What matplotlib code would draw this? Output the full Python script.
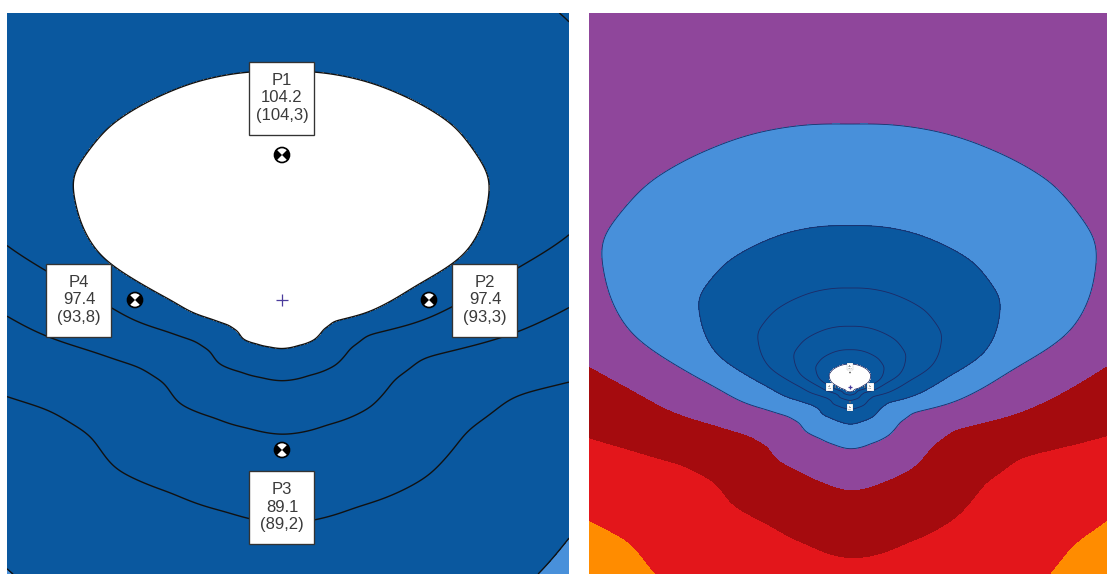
import matplotlib
matplotlib.use("Agg")
import matplotlib.pyplot as plt
import numpy as np
from matplotlib.patches import Wedge, Circle, Rectangle

# source directivity: level at 1 m (dB) against angle (deg, 0 = right, 90 = up)
angles = [0, 7, 13, 20, 30, 45, 60, 75, 90, 105, 120, 135, 150, 160, 167, 173,
          180, 188, 195, 205, 215, 225, 240, 255, 270, 290, 310, 325, 338, 345, 352]
level_1m = [101.0, 103.2, 106.2, 107.6, 108.9, 109.1, 108.8, 108.6, 108.45, 108.6,
            108.8, 109.1, 109.0, 107.6, 106.2, 103.6, 101.0, 99.0, 96.8, 94.6,
            93.7, 93.9, 93.1, 92.8, 92.9, 92.8, 93.3, 93.2, 94.2, 96.2, 98.6]
# fall-off with distance, dB per decade
decay_angles = [0, 45, 90, 135, 180, 225, 270, 315]
decay = [23.0, 23.4, 23.6, 23.4, 23.0, 23.8, 22.5, 23.2]

band_levels = [0, 60, 65, 70, 75, 80, 100, 200]
band_colors = ['#ff8c00', '#e3161b', '#a50b0e', '#8f469b', '#4890da', '#0a589f', '#ffffff']
line_levels = [75, 80, 85, 90, 95, 100]

# measuring points (m), calculated level and measured level
point_names = ['P1', 'P2', 'P3', 'P4']
point_x = [0.0, 1.47, 0.0, -1.47]
point_y = [1.45, 0.0, -1.50, 0.0]
calc = ['104.2', '97.4', '89.1', '97.4']
meas = ['(104,3)', '(93,3)', '(89,2)', '(93,8)']


def smooth_table(xp, fp, step=0.5, sigma=2.5):
    # periodic table on a fine angle grid, softened with a gaussian
    fine = np.arange(0, 360, step)
    vals = np.interp(fine, xp, fp, period=360)
    half = int(3 * sigma / step)
    kern = np.exp(-0.5 * (np.arange(-half, half + 1) * step / sigma) ** 2)
    kern /= kern.sum()
    padded = np.r_[vals[-half:], vals, vals[:half]]
    return fine, np.convolve(padded, kern, mode='valid')


dir_ang, dir_lev = smooth_table(angles, level_1m)
dec_ang, dec_val = smooth_table(decay_angles, decay, sigma=8.0)


def spl(x, y):
    r = np.hypot(x, y)
    theta = np.degrees(np.arctan2(y, x)) % 360
    d = np.interp(theta, dir_ang, dir_lev, period=360)
    k = np.interp(theta, dec_ang, dec_val, period=360)
    return d - k * np.log10(np.maximum(r, 0.05))


def draw_points(ax, fs, plus_ms):
    for name, px, py, c, m in zip(point_names, point_x, point_y, calc, meas):
        # measuring point symbol
        rad = 0.075
        ax.add_patch(Circle((px, py), rad, fc='white', ec='black', lw=fs * 0.1, zorder=5))
        ax.add_patch(Wedge((px, py), rad, 135, 225, fc='black', ec='none', zorder=6))
        ax.add_patch(Wedge((px, py), rad, -45, 45, fc='black', ec='none', zorder=6))
        # label box placed outward from the source
        ang = np.arctan2(py, px)
        bx = px + 0.56 * np.cos(ang)
        by = py + 0.57 * np.sin(ang)
        w, h = 0.65, 0.73
        ax.add_patch(Rectangle((bx - w / 2, by - h / 2), w, h, fc='white', ec='#333333',
                               lw=fs * 0.08, zorder=7))
        ax.text(bx, by, name + '\n' + c + '\n' + m, ha='center', va='center',
                fontsize=fs, color='#3a3a3a', linespacing=1.2, zorder=8,
                family='Liberation Sans')
    ax.plot(0, 0, '+', color='#4b3c9c', ms=plus_ms, mew=0.9, zorder=6)


def panel(ax, xlim, ylim, n, line_w, line_c, lines, fs, plus_ms):
    x = np.linspace(xlim[0], xlim[1], n)
    y = np.linspace(ylim[0], ylim[1], n)
    X, Y = np.meshgrid(x, y)
    Z = spl(X, Y)
    ax.contourf(X, Y, Z, levels=band_levels, colors=band_colors)
    ax.contour(X, Y, Z, levels=lines, colors=line_c, linewidths=line_w)
    draw_points(ax, fs, plus_ms)
    ax.set_xlim(xlim)
    ax.set_ylim(ylim)
    ax.set_aspect('equal')
    ax.axis('off')


fig = plt.figure(figsize=(11.07, 5.74), dpi=100)
ax1 = fig.add_axes([7 / 1107, 0, 562 / 1107, 561 / 574])
ax2 = fig.add_axes([589 / 1107, 0, 518 / 1107, 561 / 574])

panel(ax1, (-2.75, 2.87), (-2.74, 2.87), 700, 1.0, '#111111', [80, 85, 90, 95, 100], 12, 8)
panel(ax2, (-26.1, 25.7), (-18.7, 37.4), 900, 0.6, '#1d2a66', line_levels, 1.2, 3.5)

fig.savefig('out.png', dpi=100)
